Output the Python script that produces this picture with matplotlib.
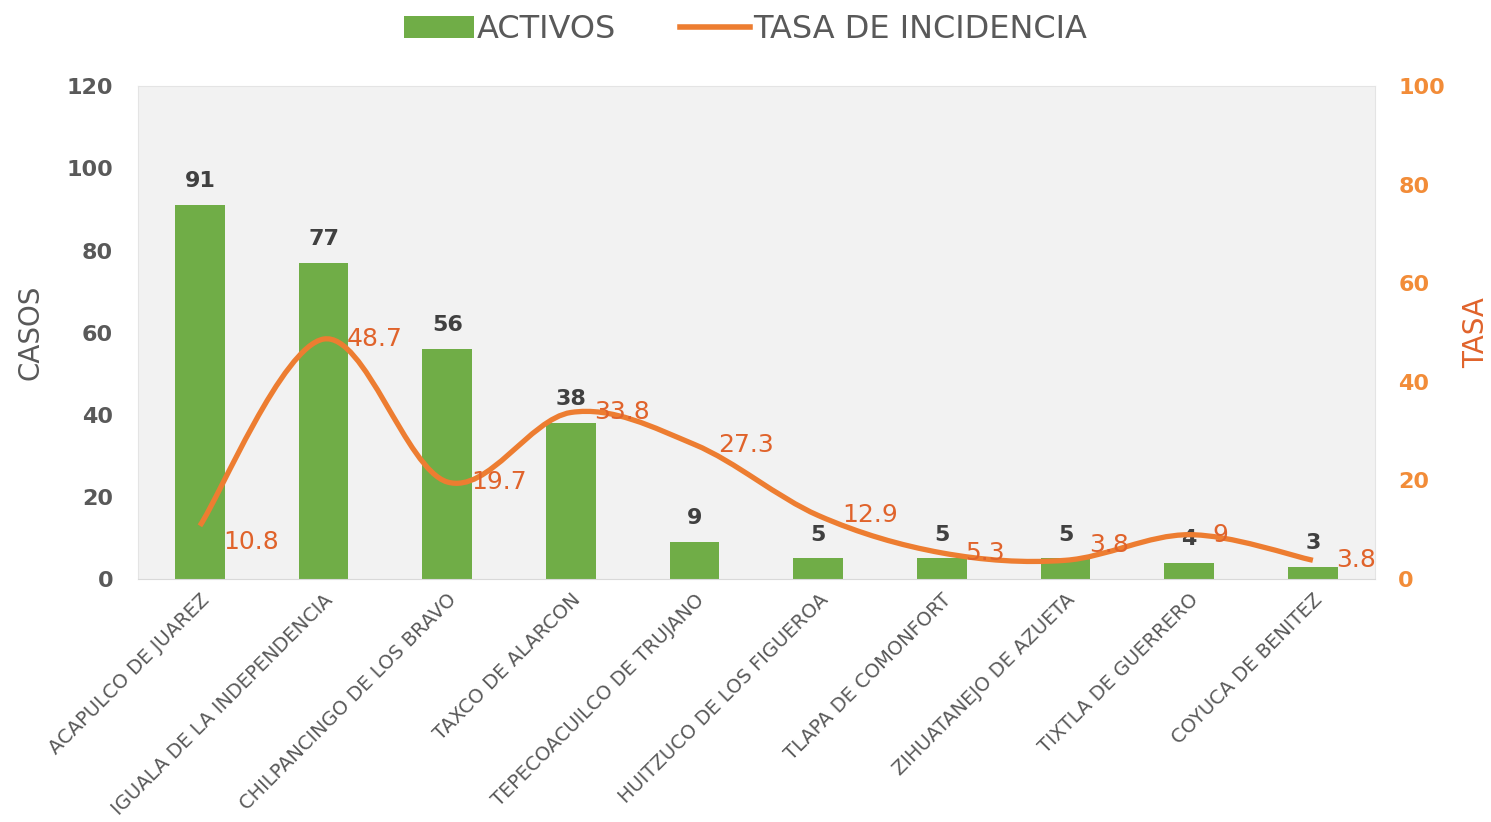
import numpy as np
import matplotlib.pyplot as plt
from matplotlib.path import Path
from matplotlib.patches import PathPatch
from matplotlib.lines import Line2D
from matplotlib.patches import Patch

plt.rcParams['font.family'] = ['DejaVu Sans']

municipios = ['ACAPULCO DE JUAREZ', 'IGUALA DE LA INDEPENDENCIA', 'CHILPANCINGO DE LOS BRAVO',
              'TAXCO DE ALARCON', 'TEPECOACUILCO DE TRUJANO', 'HUITZUCO DE LOS FIGUEROA',
              'TLAPA DE COMONFORT', 'ZIHUATANEJO DE AZUETA', 'TIXTLA DE GUERRERO',
              'COYUCA DE BENITEZ']
activos = [91, 77, 56, 38, 9, 5, 5, 5, 4, 3]
tasa = [10.8, 48.7, 19.7, 33.8, 27.3, 12.9, 5.3, 3.8, 9, 3.8]
tasa_txt = ['10.8', '48.7', '19.7', '33.8', '27.3', '12.9', '5.3', '3.8', '9', '3.8']
# manual label nudges (points), like the moved labels in the original
lab_dy = [-12, 0, 0, 0, 0, 0, 0, 11, 0, 0]

GREEN = '#70AD47'
ORANGE = '#ED7D31'
LABEL_OR = '#E0632B'
GRAY = '#595959'

fig = plt.figure(figsize=(14.91, 8.22), dpi=100)
ax1 = fig.add_axes([0.0926, 0.2956, 0.8294, 0.5994])
ax2 = ax1.twinx()
ax1.set_facecolor('#F2F2F2')

x = np.arange(len(municipios))
ax1.bar(x, activos, width=0.4, color=GREEN, zorder=2)
for xi, v in zip(x, activos):
    ax1.annotate(str(v), (xi, v), xytext=(0, 10), textcoords='offset points',
                 ha='center', va='bottom', fontsize=16, fontweight='bold', color='#404040')

ax1.set_xlim(-0.5, len(municipios) - 0.5)
ax1.set_ylim(0, 120)
ax1.set_yticks(range(0, 121, 20))
ax2.set_ylim(0, 100)
ax2.set_yticks(range(0, 101, 20))

# smoothed line (Excel-like bezier through the points)
pts = np.column_stack([x, tasa]).astype(float)
verts = [pts[0]]
codes = [Path.MOVETO]
n = len(pts)
for i in range(n - 1):
    p0 = pts[i - 1] if i > 0 else pts[i]
    p1 = pts[i]
    p2 = pts[i + 1]
    p3 = pts[i + 2] if i + 2 < n else pts[i + 1]
    c1 = p1 + (p2 - p0) / 6.0
    c2 = p2 - (p3 - p1) / 6.0
    verts += [c1, c2, p2]
    codes += [Path.CURVE4] * 3
ax2.add_patch(PathPatch(Path(verts, codes), fill=False, edgecolor=ORANGE, lw=3.8,
                        capstyle='butt', zorder=3))

for xi, v, t, dy in zip(x, tasa, tasa_txt, lab_dy):
    ax2.annotate(t, (xi, v), xytext=(17, dy), textcoords='offset points',
                 ha='left', va='center', fontsize=18, color=LABEL_OR)

ax1.set_xticks(x)
ax1.set_xticklabels(municipios, rotation=45, ha='right', rotation_mode='anchor',
                    fontsize=14, color=GRAY)
ax1.tick_params(axis='x', length=0, pad=8)
ax1.tick_params(axis='y', length=0, labelsize=16, labelcolor=GRAY, pad=18)
for lab in ax1.get_yticklabels():
    lab.set_fontweight('bold')
ax2.tick_params(axis='y', length=0, labelsize=16, labelcolor='#F28C38', pad=17)
for lab in ax2.get_yticklabels():
    lab.set_fontweight('bold')

for sp in ['top', 'right', 'left']:
    ax1.spines[sp].set_color('#E4E4E4')
    ax2.spines[sp].set_visible(False)
ax1.spines['bottom'].set_color('#D9D9D9')
ax2.spines['bottom'].set_visible(False)

ax1.set_ylabel('CASOS', fontsize=20, color=GRAY, labelpad=16)
ax2.set_ylabel('TASA', fontsize=20, color=LABEL_OR, labelpad=12)

handles = [Patch(facecolor=GREEN, label='ACTIVOS'),
           Line2D([0], [0], color=ORANGE, lw=4, label='TASA DE INCIDENCIA')]
fig.legend(handles=handles, loc='upper center', bbox_to_anchor=(0.5, 1.018), ncol=2,
           frameon=False, fontsize=23, labelcolor=GRAY, handlelength=2.2,
           handletextpad=0.1, columnspacing=2.0)

plt.savefig('out.png', dpi=100)
